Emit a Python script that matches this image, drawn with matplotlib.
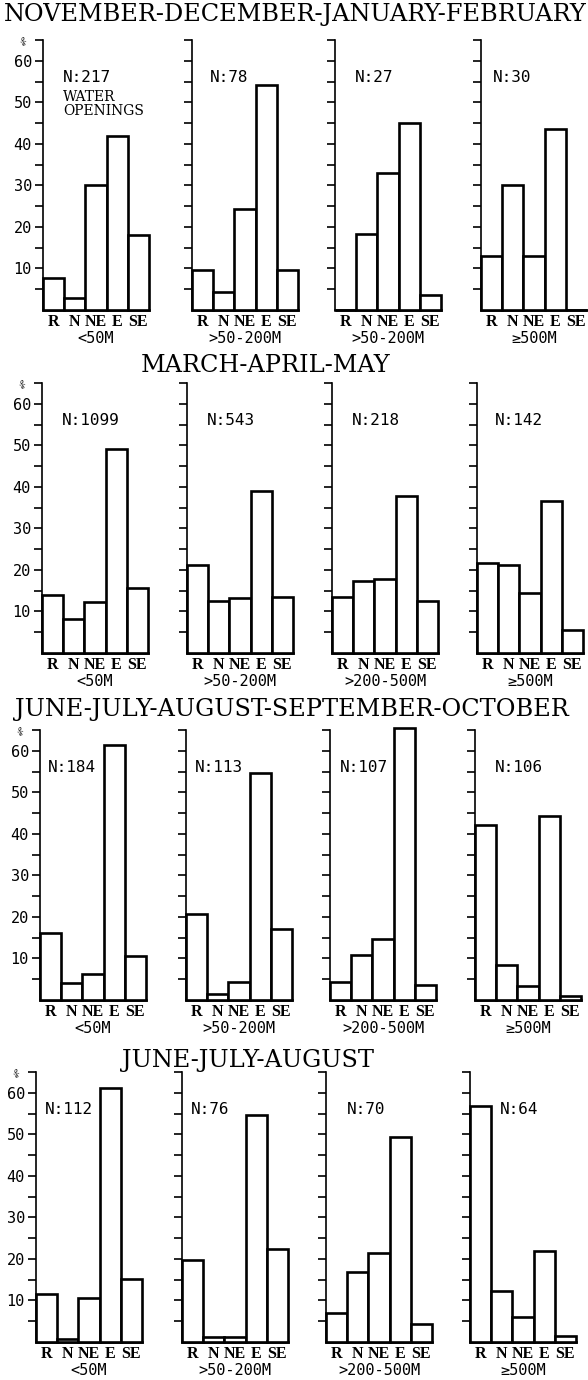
"""
Wind direction of openings by season and water depth
"""
import matplotlib
matplotlib.use('Agg')
import matplotlib.pyplot as plt
import numpy as np


# ###
# data
# ###
DIRECTIONS = ['R', 'N', 'NE', 'E', 'SE']

NDJF_TITLE = 'NOVEMBER-DECEMBER-JANUARY-FEBRUARY'
NDJF_DEPTH = ['<50M', '>50-200M', '>50-200M', '≥500M']
NDJF_N     = [217, 78, 27, 30]
NDJF_PCT   = [[7.6, 2.8, 30.0, 41.8, 18.0],
              [9.6, 4.4, 24.4, 54.2, 9.6],
              [0.0, 18.2, 33.0, 44.9, 3.5],
              [13.1, 30.1, 13.1, 43.6, 0.0]]

MAM_TITLE = 'MARCH-APRIL-MAY'
MAM_DEPTH = ['<50M', '>50-200M', '>200-500M', '≥500M']
MAM_N     = [1099, 543, 218, 142]
MAM_PCT   = [[14.0, 8.3, 12.2, 49.1, 15.6],
             [21.3, 12.5, 13.3, 39.0, 13.6],
             [13.5, 17.3, 17.9, 37.9, 12.4],
             [21.6, 21.2, 14.4, 36.6, 5.6]]

JJASO_TITLE = 'JUNE-JULY-AUGUST-SEPTEMBER-OCTOBER'
JJASO_DEPTH = ['<50M', '>50-200M', '>200-500M', '≥500M']
JJASO_N     = [184, 113, 107, 106]
JJASO_PCT   = [[16.2, 4.2, 6.2, 61.4, 10.6],
               [20.6, 1.4, 4.4, 54.6, 17.2],
               [4.4, 10.8, 14.8, 65.5, 3.5],
               [42.2, 8.4, 3.4, 44.2, 1.0]]

JJA_TITLE = 'JUNE-JULY-AUGUST'
JJA_DEPTH = ['<50M', '>50-200M', '>200-500M', '≥500M']
JJA_N     = [112, 76, 70, 64]
JJA_PCT   = [[11.5, 0.7, 10.6, 61.2, 15.1],
             [19.8, 1.1, 1.1, 54.6, 22.4],
             [7.1, 16.9, 21.4, 49.4, 4.3],
             [56.9, 12.3, 6.1, 22.0, 1.5]]


# ###
# layout (pixels)
# ###
FIG_W, FIG_H = 588, 1380
PLOT_DPI     = 100
AX_W, AX_H   = 106, 270
Y_MAX        = 65

ROW_BASELINE = [310, 653, 1000, 1342]
ROW_TITLE_Y  = [15, 365, 710, 1060]
ROW_TITLE_X  = [295, 266, 292, 248]
ROW_LEFTS    = [[43, 192, 335, 481],
                [42, 187, 332, 477],
                [40, 186, 330, 475],
                [36, 182, 326, 470]]
# x position of the N label, in bar units
ROW_N_X      = [[0.95, 0.86, 0.95, 0.57],
                [0.95, 0.95, 0.95, 0.86],
                [0.38, 0.43, 0.48, 0.95],
                [0.43, 0.43, 1.00, 1.43]]

BAR_LW    = 1.9
SPINE_LW  = 1.2
MONO      = 'DejaVu Sans Mono'
SERIF     = 'DejaVu Serif'
TIMES     = 'Liberation Serif'


def fx(x):
    return x / FIG_W


def fy(y):
    return 1 - y / FIG_H


def draw_panel(fig, left, baseline, pct, n, depth, n_x, first):
    ax = fig.add_axes([fx(left), fy(baseline), AX_W / FIG_W, AX_H / FIG_H])
    pos = np.arange(len(DIRECTIONS))
    ax.bar(pos, pct, width=1, align='edge', facecolor='white',
           edgecolor='black', linewidth=BAR_LW, clip_on=False, zorder=3)

    ax.set_xlim(0, len(DIRECTIONS))
    ax.set_ylim(0, Y_MAX)
    for s in ['top', 'right']:
        ax.spines[s].set_visible(False)
    ax.spines['left'].set_linewidth(SPINE_LW)
    ax.spines['bottom'].set_linewidth(BAR_LW)

    # y ticks every 5 %, labels only on the first panel of a row
    ticks = list(range(5, Y_MAX + 1, 5))
    ax.set_yticks(ticks)
    if first:
        ax.set_yticklabels([str(t) if t % 10 == 0 and t <= 60 else '' for t in ticks],
                           fontfamily=MONO, fontsize=11)
        ax.text(-0.95, Y_MAX - 0.5, '%', fontsize=7, fontfamily=MONO,
                ha='center', va='center', rotation=-20)
    else:
        ax.set_yticklabels([])
    ax.tick_params(axis='y', direction='out', length=6, width=SPINE_LW, pad=2)

    ax.set_xticks(pos + 0.5)
    ax.set_xticklabels(DIRECTIONS, fontfamily=TIMES, fontsize=11.5, fontweight='bold')
    ax.tick_params(axis='x', length=0, pad=3)

    ax.text(n_x, 56, 'N:{0}'.format(n), fontfamily=MONO, fontsize=11.5,
            ha='left', va='center')
    ax.text(0.5, -0.105, depth, transform=ax.transAxes, fontfamily=MONO,
            fontsize=11, ha='center', va='center')
    ax.patch.set_visible(False)
    return ax


def main_function():
    fig = plt.figure(figsize=(FIG_W / PLOT_DPI, FIG_H / PLOT_DPI), dpi=PLOT_DPI,
                     facecolor='white')

    seasons = [(NDJF_TITLE, NDJF_DEPTH, NDJF_N, NDJF_PCT),
               (MAM_TITLE, MAM_DEPTH, MAM_N, MAM_PCT),
               (JJASO_TITLE, JJASO_DEPTH, JJASO_N, JJASO_PCT),
               (JJA_TITLE, JJA_DEPTH, JJA_N, JJA_PCT)]

    for r, (title, depth, n_list, pct_list) in enumerate(seasons):
        fig.text(fx(ROW_TITLE_X[r]), fy(ROW_TITLE_Y[r]), title, fontfamily=SERIF,
                 fontsize=17.3, ha='center', va='center')
        for c in range(4):
            ax = draw_panel(fig, ROW_LEFTS[r][c], ROW_BASELINE[r], pct_list[c],
                            n_list[c], depth[c], ROW_N_X[r][c], c == 0)
            if r == 0 and c == 0:
                ax.text(ROW_N_X[r][c], 49.6, 'WATER\nOPENINGS', fontfamily=SERIF,
                        fontsize=10, ha='left', va='center', linespacing=1.0)

    fig.savefig('out.png', dpi=PLOT_DPI, facecolor='white')
    plt.close(fig)


if __name__ == '__main__':
    main_function()
